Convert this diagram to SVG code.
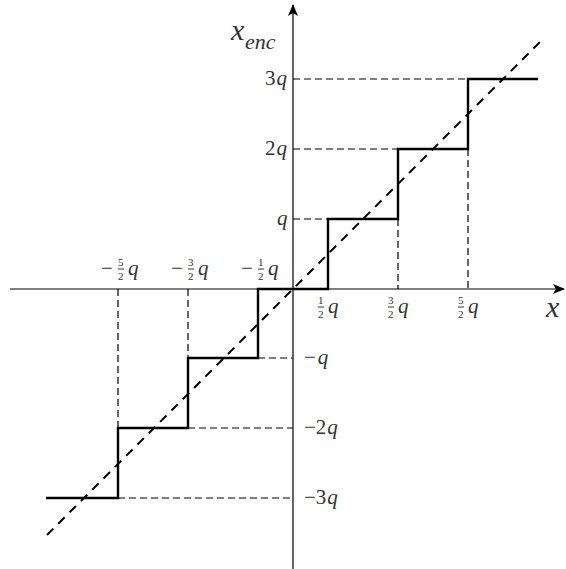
<svg xmlns="http://www.w3.org/2000/svg" width="566" height="569" viewBox="0 0 566 569" font-family="Liberation Serif">
<defs>
<marker id="ah" markerWidth="12" markerHeight="10" refX="11" refY="5" orient="auto" markerUnits="userSpaceOnUse">
<path d="M0,0 L12,5 L0,10 L3,5 Z" fill="#000"/>
</marker>
</defs>
<g id="connectors" fill="none" stroke="#000">
<line stroke-width="1.2" x1="10" y1="289" x2="564" y2="289" marker-end="url(#ah)"/>
<line stroke-width="1.2" x1="293" y1="569" x2="293" y2="5" marker-end="url(#ah)"/>
<path stroke-width="1.2" stroke-dasharray="7,4" d="M293,79 H468 M293,149 H398 M293,219 H328 M258,358 H293 M188,428 H293 M118,498 H293"/>
<path stroke-width="1.2" stroke-dasharray="7,4" d="M398,219 V289 M468,149 V289 M188,289 V358 M118,289 V428"/>
<line stroke-width="2" stroke-dasharray="9,7" x1="47" y1="535" x2="540" y2="42"/>
</g>
<g id="staircase">
<path stroke="#000" stroke-width="2.4" fill="none" d="M46,498 H118 V428 H188 V358 H258 V289 H328 V219 H398 V149 H468 V79 H538"/>
</g>
<g id="ylabel"><text fill="#333" x="231" y="40" font-size="30" font-style="italic">x</text><text fill="#333" x="245" y="49" font-size="22" font-style="italic">enc</text></g>
<g id="xlabel"><text fill="#333" x="546" y="317" font-size="30" font-style="italic">x</text></g>
<g id="yticks">
<text fill="#333" font-size="21" x="265" y="85">3<tspan font-style="italic" dx="1">q</tspan></text>
<text fill="#333" font-size="21" x="265" y="155">2<tspan font-style="italic" dx="1">q</tspan></text>
<text fill="#333" font-size="21" font-style="italic" x="277" y="225">q</text>
<text fill="#333" font-size="21" x="304" y="364">−<tspan font-style="italic" dx="2">q</tspan></text>
<text fill="#333" font-size="21" x="304" y="434">−2<tspan font-style="italic" dx="1">q</tspan></text>
<text fill="#333" font-size="21" x="304" y="504">−3<tspan font-style="italic" dx="1">q</tspan></text>
</g>
<g id="xticks">
<g id="t1"><text fill="#333" font-size="11" x="318" y="304">1</text><line stroke="#000" stroke-width="0.8" x1="318" y1="307" x2="324" y2="307"/><text fill="#333" font-size="11" x="318" y="318">2</text><text fill="#333" font-size="21" font-style="italic" x="328" y="313">q</text></g>
<g id="t3"><text fill="#333" font-size="11" x="388" y="304">3</text><line stroke="#000" stroke-width="0.8" x1="388" y1="307" x2="394" y2="307"/><text fill="#333" font-size="11" x="388" y="318">2</text><text fill="#333" font-size="21" font-style="italic" x="398" y="313">q</text></g>
<g id="t5"><text fill="#333" font-size="11" x="458" y="304">5</text><line stroke="#000" stroke-width="0.8" x1="458" y1="307" x2="464" y2="307"/><text fill="#333" font-size="11" x="458" y="318">2</text><text fill="#333" font-size="21" font-style="italic" x="468" y="313">q</text></g>
<g id="tm5"><text fill="#333" font-size="21" x="101" y="275">−</text><text fill="#333" font-size="11" x="118" y="266">5</text><line stroke="#000" stroke-width="0.8" x1="118" y1="269" x2="124" y2="269"/><text fill="#333" font-size="11" x="118" y="280">2</text><text fill="#333" font-size="21" font-style="italic" x="128" y="275">q</text></g>
<g id="tm3"><text fill="#333" font-size="21" x="171" y="275">−</text><text fill="#333" font-size="11" x="188" y="266">3</text><line stroke="#000" stroke-width="0.8" x1="188" y1="269" x2="194" y2="269"/><text fill="#333" font-size="11" x="188" y="280">2</text><text fill="#333" font-size="21" font-style="italic" x="198" y="275">q</text></g>
<g id="tm1"><text fill="#333" font-size="21" x="241" y="275">−</text><text fill="#333" font-size="11" x="258" y="266">1</text><line stroke="#000" stroke-width="0.8" x1="258" y1="269" x2="264" y2="269"/><text fill="#333" font-size="11" x="258" y="280">2</text><text fill="#333" font-size="21" font-style="italic" x="268" y="275">q</text></g>
</g>
</svg>
